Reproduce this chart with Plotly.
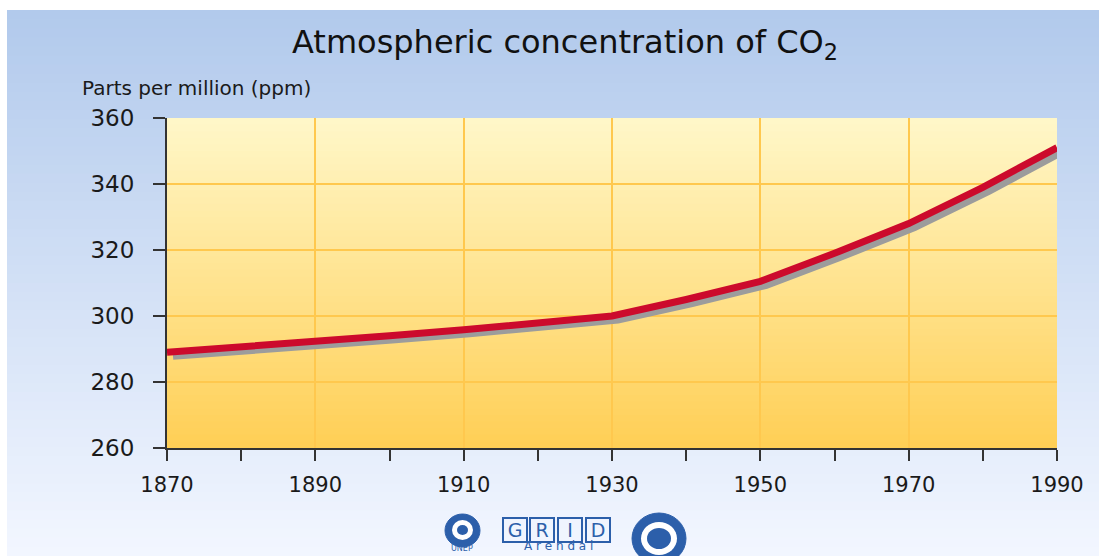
import plotly.graph_objects as go

# ---------------- data ----------------
years = [1870, 1880, 1890, 1900, 1910, 1920, 1930, 1940, 1950, 1960, 1970, 1980, 1990]
co2_ppm = [289.0, 290.5, 292.0, 294.0, 295.8, 297.8, 300.0, 305.0, 310.5, 319.0, 328.0, 339.0, 351.0]

x_range = [1870, 1990]
y_range = [260, 360]
x_major_dtick = 20
x_minor_dtick = 10
y_dtick = 20
grid_years = [1890, 1910, 1930, 1950, 1970]
grid_ppm = [280, 300, 320, 340]

title_text = "Atmospheric concentration of CO<sub>2</sub>"
y_title_text = "Parts per million (ppm)"

# ---------------- layout geometry ----------------
W, H = 1099, 556
L, R, T, B = 167, 42, 118, 108
PW, PH = W - L - R, H - T - B
FONT = "DejaVu Sans"


def pxx(xp):
    return (xp - L) / PW


def pxy(yp):
    return (H - B - yp) / PH


def lerp(c1, c2, t):
    return "rgb(%d,%d,%d)" % tuple(round(a + (b - a) * t) for a, b in zip(c1, c2))


shapes = []
# blue page gradient
blue_top, blue_bot = (178, 202, 236), (242, 246, 255)
n = 60
top, bot = 10, H
for i in range(n):
    y0 = top + (bot - top) * i / n
    y1 = top + (bot - top) * (i + 1) / n + 1
    shapes.append(dict(type="rect", xref="paper", yref="paper", layer="below",
                       x0=pxx(7), x1=pxx(W), y0=pxy(min(y1, H)), y1=pxy(y0),
                       line=dict(width=0), fillcolor=lerp(blue_top, blue_bot, i / (n - 1))))
# yellow plot-area gradient
yel_top, yel_bot = (255, 247, 200), (255, 207, 86)
n = 50
for i in range(n):
    shapes.append(dict(type="rect", xref="x domain", yref="y domain", layer="below",
                       x0=0, x1=1, y0=max(0, 1 - (i + 1) / n - 0.004), y1=1 - i / n,
                       line=dict(width=0), fillcolor=lerp(yel_top, yel_bot, i / (n - 1))))

# logos (decorative)
logo_blue = "#2C5FAA"
shapes.append(dict(type="circle", xref="paper", yref="paper", x0=pxx(445), x1=pxx(480),
                   y0=pxy(547), y1=pxy(514), fillcolor=logo_blue, line=dict(color=logo_blue, width=1)))
shapes.append(dict(type="circle", xref="paper", yref="paper", x0=pxx(452), x1=pxx(473),
                   y0=pxy(540), y1=pxy(520), fillcolor="white", line=dict(width=0)))
shapes.append(dict(type="circle", xref="paper", yref="paper", x0=pxx(457), x1=pxx(468),
                   y0=pxy(535), y1=pxy(525), fillcolor=logo_blue, line=dict(width=0)))
shapes.append(dict(type="circle", xref="paper", yref="paper", x0=pxx(632), x1=pxx(686),
                   y0=pxy(564), y1=pxy(513), fillcolor=logo_blue, line=dict(color=logo_blue, width=1)))
shapes.append(dict(type="circle", xref="paper", yref="paper", x0=pxx(641), x1=pxx(677),
                   y0=pxy(555), y1=pxy(522), fillcolor="white", line=dict(width=0)))
shapes.append(dict(type="circle", xref="paper", yref="paper", x0=pxx(647), x1=pxx(671),
                   y0=pxy(549), y1=pxy(528), fillcolor=logo_blue, line=dict(width=0)))

annotations = [
    dict(text=y_title_text, xref="paper", yref="paper", x=pxx(80), y=pxy(88),
         xanchor="left", yanchor="middle", showarrow=False,
         font=dict(family=FONT, size=20, color="#1a1a1a")),
]
for letter, cx in zip(["G", "R", "I", "D"], [515, 542, 570, 598]):
    annotations.append(dict(text=letter, xref="paper", yref="paper", x=pxx(cx), y=pxy(530),
                            xanchor="center", yanchor="middle", showarrow=False,
                            bordercolor=logo_blue, borderwidth=2, borderpad=0, width=22,
                            font=dict(family=FONT, size=19, color=logo_blue)))
annotations.append(dict(text="A r e n d a l", xref="paper", yref="paper", x=pxx(558), y=pxy(555),
                        xanchor="center", yanchor="bottom", showarrow=False,
                        font=dict(family=FONT, size=12, color=logo_blue)))
annotations.append(dict(text="UNEP", xref="paper", yref="paper", x=pxx(462), y=pxy(555),
                        xanchor="center", yanchor="bottom", showarrow=False,
                        font=dict(family=FONT, size=8, color=logo_blue)))

# shadow offset (pixels) converted to data units of the hidden shadow axes
dx_px, dy_px = 6, 4
dx = dx_px * (x_range[1] - x_range[0]) / PW
dy = dy_px * (y_range[1] - y_range[0]) / PH

fig = go.Figure()
# shadow on hidden, shifted axes
fig.add_trace(go.Scatter(x=years, y=co2_ppm, xaxis="x", yaxis="y", mode="lines",
                         line=dict(color="#9C9C9C", width=7), hoverinfo="skip", showlegend=False))
# main red line
fig.add_trace(go.Scatter(x=years, y=co2_ppm, xaxis="x2", yaxis="y2", mode="lines",
                         line=dict(color="#CC0A2C", width=7), name="CO2", showlegend=False))
# invisible trace carrying the grid axes
fig.add_trace(go.Scatter(x=[years[0]], y=[co2_ppm[0]], xaxis="x3", yaxis="y3", mode="markers",
                         marker=dict(opacity=0), hoverinfo="skip", showlegend=False))

axis_col = "#333333"
fig.update_layout(
    width=W, height=H,
    margin=dict(l=L, r=R, t=T, b=B),
    paper_bgcolor="white",
    plot_bgcolor="rgba(0,0,0,0)",
    title=dict(text=title_text, x=565 / W, xref="container", xanchor="center",
               y=1 - 42 / H, yref="container", yanchor="middle",
               font=dict(family=FONT, size=32, color="#111111")),
    xaxis=dict(range=[x_range[0] - dx, x_range[1] - dx], visible=False, fixedrange=True),
    yaxis=dict(range=[y_range[0] + dy, y_range[1] + dy], visible=False, fixedrange=True),
    xaxis2=dict(range=x_range, overlaying="x", anchor="y2", side="bottom",
                tickmode="linear", tick0=x_range[0], dtick=x_major_dtick,
                ticks="outside", ticklen=11, tickwidth=2, tickcolor=axis_col,
                minor=dict(dtick=x_minor_dtick, tick0=x_range[0], ticks="outside", ticklen=11,
                           tickwidth=2, tickcolor=axis_col, showgrid=False),
                showline=True, linecolor=axis_col, linewidth=2, showgrid=False, zeroline=False,
                tickfont=dict(family=FONT, size=21, color="#1a1a1a"), ticklabelstandoff=6),
    yaxis2=dict(range=y_range, overlaying="y", anchor="x2", side="left",
                tickmode="linear", tick0=y_range[0], dtick=y_dtick,
                ticks="outside", ticklen=12, tickwidth=2, tickcolor=axis_col,
                showline=True, linecolor=axis_col, linewidth=2, showgrid=False, zeroline=False,
                tickfont=dict(family=FONT, size=23, color="#1a1a1a"), ticklabelstandoff=14),
    xaxis3=dict(range=x_range, overlaying="x", anchor="y3", tickmode="array", tickvals=grid_years,
                showticklabels=False, ticks="", showline=False, zeroline=False,
                showgrid=True, gridcolor="#FFC84E", gridwidth=2),
    yaxis3=dict(range=y_range, overlaying="y", anchor="x3", tickmode="array", tickvals=grid_ppm,
                showticklabels=False, ticks="", showline=False, zeroline=False,
                showgrid=True, gridcolor="#FFC84E", gridwidth=2),
    shapes=shapes,
    annotations=annotations,
    showlegend=False,
)

fig.write_html("out.html", config={"displayModeBar": False},
               post_script="document.body.style.margin='0';document.body.style.overflow='hidden';")
